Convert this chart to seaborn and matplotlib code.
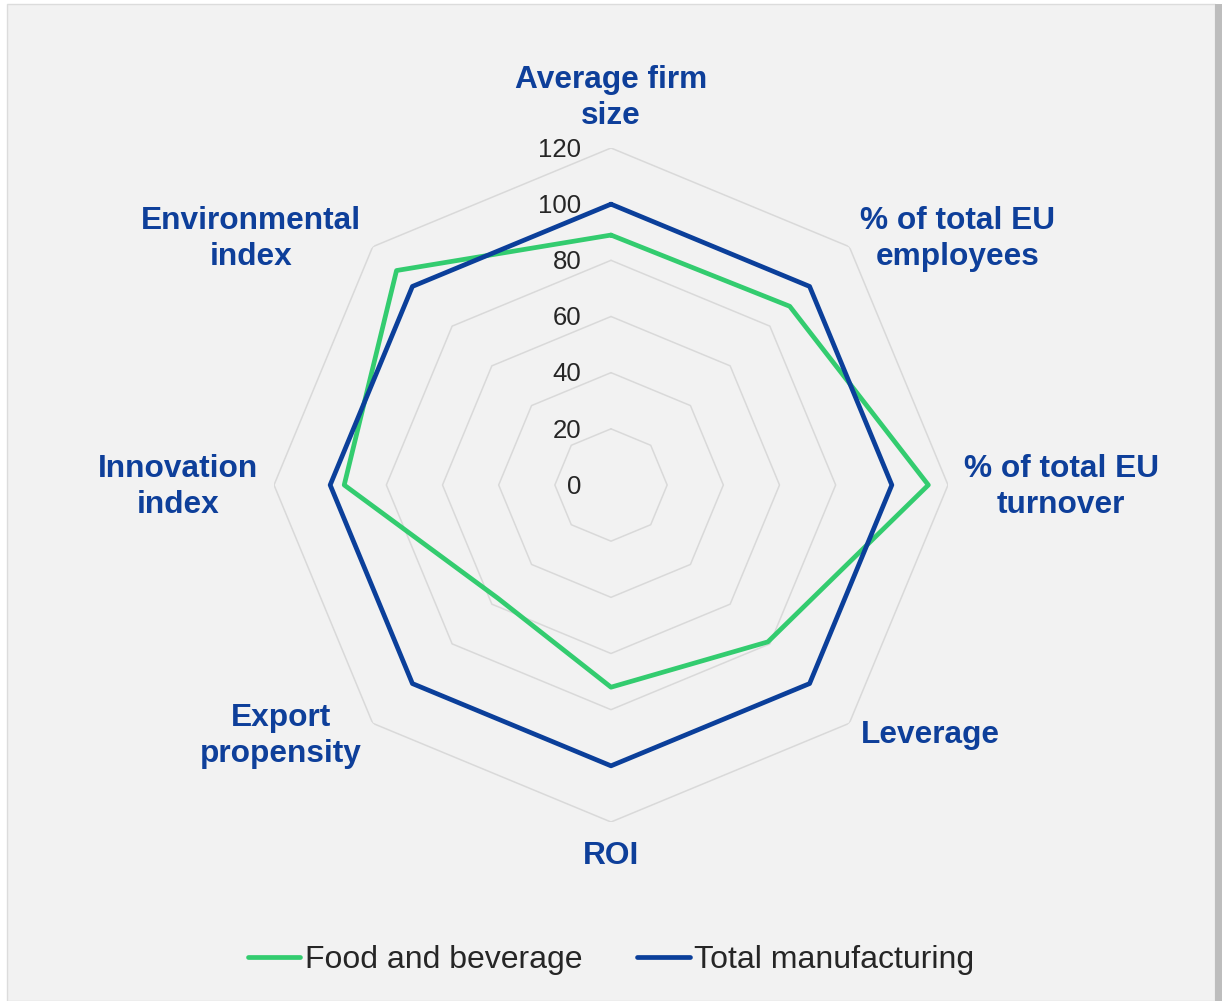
import numpy as np
import pandas as pd
import matplotlib
matplotlib.use("Agg")
import matplotlib.pyplot as plt
from matplotlib.patches import Rectangle
from matplotlib.lines import Line2D
import seaborn as sns

# Indicators, clockwise from the top
categories = [
    "Average firm\nsize",
    "% of total EU\nemployees",
    "% of total EU\nturnover",
    "Leverage",
    "ROI",
    "Export\npropensity",
    "Innovation\nindex",
    "Environmental\nindex",
]
food_beverage = [89, 90, 113, 79, 72, 57, 95, 108]
total_manufacturing = [100, 100, 100, 100, 100, 100, 100, 100]
series_names = ["Food and beverage", "Total manufacturing"]
radial_ticks = [0, 20, 40, 60, 80, 100, 120]

GREEN = "#33cc6f"
BLUE = "#0b3f9a"
GRID = "#d9d9d9"
LABEL_BLUE = "#0e3f9a"

sns.set_theme(style="white")
plt.rcParams["font.family"] = ["Liberation Sans", "DejaVu Sans"]

W, H = 1222, 1001
fig = plt.figure(figsize=(W / 100, H / 100), dpi=100)
fig.patch.set_facecolor("white")

# Panel background with frame and right-hand shadow
fig.patches.append(Rectangle((7 / W, 0), (1215 - 7) / W, (H - 4) / H,
                             transform=fig.transFigure, facecolor="#f2f2f2",
                             edgecolor="#dcdcdc", linewidth=1, zorder=-2))
fig.patches.append(Rectangle((1215 / W, 0), 7 / W, (H - 4) / H,
                             transform=fig.transFigure, facecolor="#bdbdbd",
                             edgecolor="none", zorder=-2))

cx, cy, R = 611, 485, 337
ax = fig.add_axes([(cx - R) / W, (H - cy - R) / H, 2 * R / W, 2 * R / H],
                  projection="polar")
ax.set_theta_offset(np.pi / 2)
ax.set_theta_direction(-1)
ax.patch.set_visible(False)
ax.spines["polar"].set_visible(False)
ax.grid(False)

n = len(categories)
angles = np.linspace(0, 2 * np.pi, n, endpoint=False)
closed = np.append(angles, 2 * np.pi)

# Octagonal grid rings
for r in radial_ticks[1:]:
    ax.plot(closed, [r] * (n + 1), color=GRID, linewidth=1.1, zorder=1)

# Series lines
rows = []
for name, vals in zip(series_names, [food_beverage, total_manufacturing]):
    vv = list(vals) + [vals[0]]
    for t, v in zip(closed, vv):
        rows.append({"theta": t, "value": v, "series": name})
df = pd.DataFrame(rows)
sns.lineplot(data=df, x="theta", y="value", hue="series", sort=False,
             palette={series_names[0]: GREEN, series_names[1]: BLUE},
             linewidth=3.4, ax=ax, legend=False, zorder=3)
ax.set_xlabel("")
ax.set_ylabel("")
ax.set_xticks([])
ax.set_yticks([])
ax.set_ylim(0, 120)

# Radial tick labels along the top spoke
for r in radial_ticks:
    ax.annotate(str(r), xy=(0, r), xytext=(-21.5, -1.2), textcoords="offset points",
                ha="right", va="center", fontsize=18.5, color="#262626", zorder=4)

# Category labels (pixel centres converted to polar positions)
label_px = [(611, 98), (958, 239), (1061, 487), (930, 735),
            (611, 856), (281, 736), (178, 487), (251, 239)]
scale = R / 120
for text, (px, py) in zip(categories, label_px):
    dx, dy = px - cx, cy - py
    rr = np.hypot(dx, dy) / scale
    th = np.arctan2(dx, dy)
    ax.text(th, rr, text, ha="center", va="center", fontsize=22.8,
            fontweight="bold", color=LABEL_BLUE, linespacing=1.28,
            clip_on=False, zorder=4)

handles = [Line2D([], [], color=GREEN, linewidth=3.4, solid_capstyle="round"),
           Line2D([], [], color=BLUE, linewidth=3.4, solid_capstyle="round")]
fig.legend(handles, series_names, loc="center", bbox_to_anchor=(0.5, (H - 960) / H),
           ncol=2, frameon=False, fontsize=23, handlelength=1.65,
           handletextpad=0.15, columnspacing=1.7, labelcolor="#262626")

fig.savefig("out.png", dpi=100, facecolor=fig.get_facecolor())
